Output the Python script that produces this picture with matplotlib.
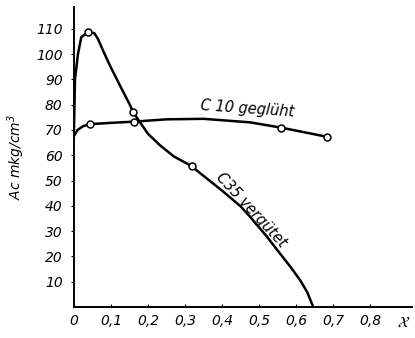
import matplotlib.pyplot as plt

# C35 vergütet - traced curve and measured points (circles)
c35_x = [0.0, 0.003, 0.011, 0.02, 0.038, 0.055, 0.065, 0.08, 0.097, 0.124, 0.151, 0.16,
         0.2, 0.232, 0.27, 0.318, 0.34, 0.4, 0.45, 0.476, 0.52, 0.557, 0.585, 0.611,
         0.63, 0.646]
c35_y = [68, 90, 100, 106.7, 108.7, 108.3, 106, 101, 95.6, 87.7, 80, 77,
         68.5, 64, 59.5, 55.7, 53, 46, 39.8, 35.6, 28, 21, 15.8, 10.5,
         5.8, 0]
c35_pts_x = [0.038, 0.16, 0.318]
c35_pts_y = [108.7, 77, 55.7]

# C 10 geglüht
c10_x = [0.0, 0.01, 0.025, 0.043, 0.1, 0.163, 0.25, 0.35, 0.476, 0.56, 0.683]
c10_y = [67.5, 70, 71.5, 72.3, 72.8, 73.3, 74.2, 74.4, 73, 70.9, 67.3]
c10_pts_x = [0.043, 0.163, 0.56, 0.683]
c10_pts_y = [72.3, 73.3, 70.9, 67.3]

xticks = [0, 0.1, 0.2, 0.3, 0.4, 0.5, 0.6, 0.7, 0.8]
xtick_labels = ["0", "0,1", "0,2", "0,3", "0,4", "0,5", "0,6", "0,7", "0,8"]
yticks = [10, 20, 30, 40, 50, 60, 70, 80, 90, 100, 110]

plt.rcParams['font.family'] = ['DejaVu Sans']
plt.rcParams['font.style'] = 'italic'

fig = plt.figure(figsize=(4.15, 3.38), dpi=100)
ax = fig.add_axes([0.178, 0.092, 0.815, 0.887])

ax.plot(c35_x, c35_y, color="black", linewidth=1.8, solid_capstyle="round",
        solid_joinstyle="round")
ax.plot(c10_x, c10_y, color="black", linewidth=1.8, solid_capstyle="round",
        solid_joinstyle="round")
ax.plot(c35_pts_x, c35_pts_y, "o", markersize=5, markerfacecolor="white",
        markeredgecolor="black", markeredgewidth=1.1)
ax.plot(c10_pts_x, c10_pts_y, "o", markersize=5, markerfacecolor="white",
        markeredgecolor="black", markeredgewidth=1.1)

ax.set_xlim(0, 0.913)
ax.set_ylim(0, 118.6)

ax.set_xticks(xticks)
ax.set_xticklabels(xtick_labels, fontsize=10, style="italic")
ax.set_yticks(yticks)
ax.set_yticklabels([str(v) for v in yticks], fontsize=10, style="italic")
ax.tick_params(axis="x", direction="in", length=2, width=0.8, pad=5)
ax.tick_params(axis="y", direction="out", length=2, width=0.8, pad=6)

for s in ["top", "right"]:
    ax.spines[s].set_visible(False)
for s in ["left", "bottom"]:
    ax.spines[s].set_linewidth(1.4)

ax.text(0.889, -0.028, r"$\mathcal{X}$", transform=ax.get_xaxis_transform(),
        ha="center", va="top", fontsize=11)

ax.set_ylabel("Ac mkg/cm$^3$", fontsize=10, style="italic")
ax.yaxis.set_label_coords(-0.138, 0.5)

ax.text(0.467, 78.2, "C 10 geglüht", fontsize=10.5, style="italic",
        ha="center", va="center", rotation=-4)
ax.text(0.478, 38.5, "C35 vergütet", fontsize=10.5, style="italic",
        ha="center", va="center", rotation=-47)

fig.savefig("out.png", dpi=100)
